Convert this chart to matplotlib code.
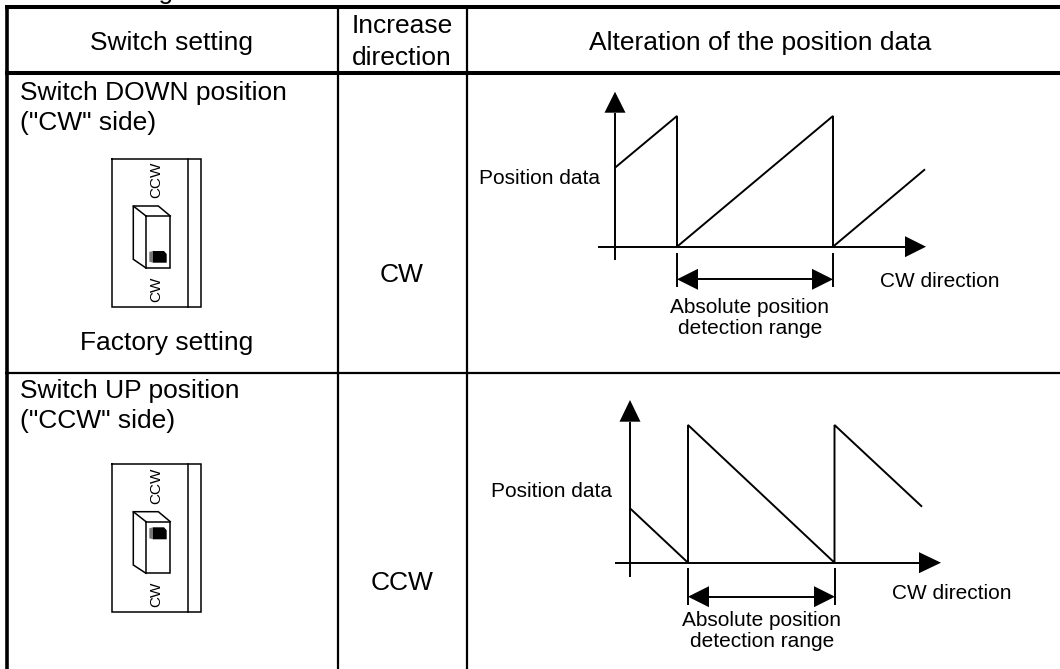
import matplotlib
matplotlib.use("Agg")
import matplotlib.pyplot as plt

plt.rcParams['font.family'] = ['Liberation Sans', 'DejaVu Sans']

# Table structure
header_labels = ["Switch setting", "Increase\ndirection", "Alteration of the position data"]
increase_dirs = ["CW", "CCW"]
row_titles = ['Switch DOWN position\n("CW" side)', 'Switch UP position\n("CCW" side)']
factory_label = "Factory setting"
axis_y_label = "Position data"
axis_x_label = "CW direction"
range_label = "Absolute position\ndetection range"

# Sawtooth traces (pixel coordinates)
down_saw_x = [615, 677, 677, 833, 833, 925]
down_saw_y = [167.7, 116, 246.7, 116, 246.7, 169.3]
up_saw_x = [630, 688, 688, 834.5, 834.5, 922]
up_saw_y = [508.3, 562.7, 425, 562.7, 425, 506.7]


def line(ax, xs, ys, lw=1.4, z=2):
    ax.plot(xs, ys, color='#000000', lw=lw, solid_capstyle='butt', solid_joinstyle='miter', zorder=z)


def head(ax, pts):
    ax.fill([p[0] for p in pts], [p[1] for p in pts], color='#000000', lw=0, zorder=3)


def diagram(ax, sx, sy, yx, ytip, ybase, ybot, xy, xl, xbase, xtip, r0, r1, rtop, rbot, ry,
            lab_x, lab_y, cw_x, cw_y, rng_x, rng_y):
    line(ax, sx, sy)
    line(ax, [yx, yx], [ybase, ybot])
    head(ax, [(yx - 10.5, ybase), (yx, ytip), (yx + 10.5, ybase)])
    line(ax, [xl, xbase], [xy, xy])
    head(ax, [(xbase, xy - 10.5), (xtip, xy), (xbase, xy + 10.5)])
    line(ax, [r0, r0], [rtop, rbot])
    line(ax, [r1, r1], [rtop, rbot])
    line(ax, [r0 + 20, r1 - 20], [ry, ry])
    head(ax, [(r0, ry), (r0 + 21, ry - 10.5), (r0 + 21, ry + 10.5)])
    head(ax, [(r1, ry), (r1 - 21, ry - 10.5), (r1 - 21, ry + 10.5)])
    ax.text(lab_x, lab_y, axis_y_label, fontsize=15, ha='left', va='baseline')
    ax.text(cw_x, cw_y, axis_x_label, fontsize=15, ha='left', va='baseline')
    l1, l2 = range_label.split("\n")
    ax.text(rng_x, rng_y, l1, fontsize=15, ha='center', va='baseline')
    ax.text(rng_x, rng_y + 21, l2, fontsize=15, ha='center', va='baseline')


def switch(ax, top, bot, body_dy, knob_top, knob_bot, ccw_c, cw_c):
    kw = dict(color='k', lw=1.1, zorder=2, solid_joinstyle='miter', solid_capstyle='projecting')
    ax.plot([111.5, 201, 201, 111.5, 111.5], [top, top, bot, bot, top], **kw)
    ax.plot([188, 188], [top, bot], **kw)
    y0, y1, y2, y3 = body_dy
    ax.plot([146, 170.3, 170.3, 146, 146], [y1, y1, y2, y2, y1], **kw)
    ax.plot([146, 133.3, 133.3, 146], [y1, y0, y3, y2], **kw)
    ax.plot([133.3, 158.3, 170.3], [y0, y0, y1], **kw)
    ax.fill([149.3, 153, 153, 149.3], [knob_top + 1, knob_top, knob_bot, knob_bot - 1],
            color='#777777', lw=0, zorder=3)
    ax.fill([153, 164, 166.7, 166.7, 153], [knob_top, knob_top, knob_top + 3, knob_bot, knob_bot],
            color='#000000', lw=0, zorder=3)
    ax.text(156, ccw_c, "CCW", fontsize=11, rotation=90, ha='center', va='center')
    ax.text(156, cw_c, "CW", fontsize=11, rotation=90, ha='center', va='center')


fig = plt.figure(figsize=(10.6, 6.69), dpi=100)
ax = fig.add_axes([0, 0, 1, 1])
ax.set_xlim(0, 1060)
ax.set_ylim(669, 0)
ax.axis('off')

# Clipped caption above the table
ax.text(174, -1, "Setting", fontsize=19, ha='right', va='baseline', clip_on=False)

# Grid
line(ax, [5, 1060], [7, 7], lw=2.9)
line(ax, [5, 1060], [72.5, 72.5], lw=2.9)
line(ax, [5, 1060], [373, 373], lw=1.6)
line(ax, [7, 7], [5, 669], lw=2.6)
line(ax, [337.7, 337.7], [7, 669], lw=1.6)
line(ax, [466.7, 466.7], [7, 669], lw=1.6)

# Header
ax.text(171, 50, header_labels[0], fontsize=19, ha='center', va='baseline')
inc1, inc2 = header_labels[1].split("\n")
ax.text(402, 33, inc1, fontsize=19, ha='center', va='baseline')
ax.text(402, 65, inc2, fontsize=19, ha='center', va='baseline')
ax.text(760, 50, header_labels[2], fontsize=19, ha='center', va='baseline')

# Row titles
for title, base in zip(row_titles, [100, 398]):
    a, b = title.split("\n")
    ax.text(20, base, a, fontsize=19, ha='left', va='baseline')
    ax.text(20, base + 30, b, fontsize=19, ha='left', va='baseline')
ax.text(167, 350, factory_label, fontsize=19, ha='center', va='baseline')

# Increase direction
ax.text(402, 282, increase_dirs[0], fontsize=19, ha='center', va='baseline')
ax.text(402, 590, increase_dirs[1], fontsize=19, ha='center', va='baseline')

# Switches
switch(ax, 158.5, 307, (206, 216, 268, 259.3), 251, 262.7, 180, 289)
switch(ax, 464, 612, (511.7, 521.7, 573.3, 565), 527.3, 539.3, 486, 594)

# Diagrams
diagram(ax, down_saw_x, down_saw_y, 615, 91.7, 112.7, 260, 246.7, 598, 905, 926, 677, 833, 252.7, 286.7, 279.3,
        479, 184, 880, 286.7, 750, 313)
diagram(ax, up_saw_x, up_saw_y, 630, 400, 421.7, 576.7, 562.7, 615, 919, 941, 688, 835, 568.3, 605, 596.7,
        490.6, 496.7, 891.7, 599.3, 762, 626)

fig.savefig("out.png", dpi=100, facecolor='white')
